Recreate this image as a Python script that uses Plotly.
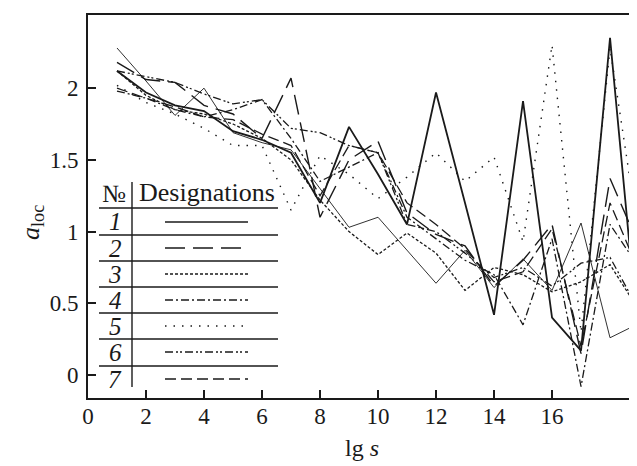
import plotly.graph_objects as go

# ---------------- data ----------------
lg_s = list(range(1, 20))
series_1 = [2.12, 1.97, 1.88, 1.84, 1.70, 1.64, 1.55, 1.20, 1.73, 1.40, 1.05, 1.97, 1.20, 0.42, 1.91, 0.40, 0.17, 2.35, 0.20]
series_1b = [2.28, 2.05, 1.81, 2.00, 1.69, 1.62, 1.57, 1.30, 1.03, 1.10, 0.87, 0.64, 0.87, 0.61, 0.81, 0.59, 1.06, 0.26, 0.36]
series_2 = [2.18, 2.06, 2.04, 1.88, 1.82, 1.65, 2.07, 1.10, 1.50, 1.63, 1.13, 0.98, 0.90, 0.62, 0.80, 1.05, 0.15, 1.37, 0.90]
series_3 = [2.12, 1.95, 1.85, 1.82, 1.75, 1.65, 1.50, 1.22, 1.00, 0.84, 0.99, 0.85, 0.59, 0.75, 0.70, 0.58, 0.65, 0.77, 0.45]
series_4 = [1.98, 1.93, 1.85, 1.80, 1.85, 1.92, 1.65, 1.35, 1.45, 1.55, 1.10, 0.95, 0.80, 0.70, 0.35, 0.95, -0.08, 1.05, 0.75]
series_5 = [2.02, 1.90, 1.82, 1.72, 1.60, 1.60, 1.15, 1.53, 1.40, 1.23, 1.38, 1.55, 1.35, 1.52, 0.93, 2.30, 0.30, 2.28, 0.95]
series_6 = [2.12, 2.08, 2.04, 1.96, 1.89, 1.92, 1.72, 1.69, 1.60, 1.55, 1.05, 1.00, 0.85, 0.68, 0.75, 0.62, 0.78, 0.82, 0.45]
series_7 = [2.00, 1.93, 1.87, 1.80, 1.78, 1.68, 1.60, 1.25, 1.60, 1.55, 1.20, 1.05, 0.88, 0.65, 0.72, 1.02, 0.20, 1.20, 0.72]

x_ticks = [0, 2, 4, 6, 8, 10, 12, 14, 16]
y_ticks = [0, 0.5, 1, 1.5, 2]
y_tick_text = ["0", "0.5", "1", "1.5", "2"]
legend_numbers = ["1", "2", "3", "4", "5", "6", "7"]

# ---------------- styles ----------------
INK = "#1a1a1a"
FONT = "Liberation Serif"
dashes = {
    "1": "solid",
    "2": "20px,8px",
    "3": "3px,2px",
    "4": "8px,3px,2px,3px",
    "5": "1.5px,7px",
    "6": "8px,3px,2px,2px,2px,3px",
    "7": "11px,5px",
}

# page body adds an 8px offset; positions below are in screenshot pixels
OFF = 8
W, H = 637 - OFF, 466 - OFF
L, R, T, B = 88, 637, 15, 398


def pxx(x):
    return (x - L) / (R - L)


def pxy(y):
    return (B - y) / (B - T)


fig = go.Figure()

plot_series = [
    (series_1, "1", 1.8),
    (series_1b, "1", 0.9),
    (series_2, "2", 1.4),
    (series_3, "3", 1.3),
    (series_4, "4", 1.3),
    (series_5, "5", 1.4),
    (series_6, "6", 1.3),
    (series_7, "7", 1.3),
]
for vals, key, w in plot_series:
    fig.add_trace(go.Scatter(
        x=lg_s, y=vals, mode="lines",
        line=dict(color=INK, width=w, dash=dashes[key]),
        showlegend=False, hoverinfo="skip",
    ))

shapes = []
annotations = []

# legend table
h_lines = [208, 235, 261, 287, 313, 339, 366]
for yy in h_lines:
    shapes.append(dict(type="line", xref="paper", yref="paper",
                       x0=pxx(99), x1=pxx(278), y0=pxy(yy), y1=pxy(yy),
                       line=dict(color=INK, width=1.4)))
shapes.append(dict(type="line", xref="paper", yref="paper",
                   x0=pxx(132), x1=pxx(132), y0=pxy(182), y1=pxy(387),
                   line=dict(color=INK, width=1.4)))

annotations.append(dict(xref="paper", yref="paper", x=pxx(114), y=pxy(193),
                        text="№", showarrow=False, xanchor="center", yanchor="middle",
                        font=dict(family=FONT, size=25, color=INK)))
annotations.append(dict(xref="paper", yref="paper", x=pxx(137), y=pxy(192),
                        text="Designations", showarrow=False, xanchor="left", yanchor="middle",
                        font=dict(family=FONT, size=26, color=INK)))

row_centers = [222, 248, 274, 300, 326, 352, 379]
for num, yc in zip(legend_numbers, row_centers):
    annotations.append(dict(xref="paper", yref="paper", x=pxx(115), y=pxy(yc),
                            text="<i>" + num + "</i>", showarrow=False,
                            xanchor="center", yanchor="middle",
                            font=dict(family=FONT, size=25, color=INK)))
    shapes.append(dict(type="line", xref="paper", yref="paper",
                       x0=pxx(165), x1=pxx(248), y0=pxy(yc), y1=pxy(yc),
                       line=dict(color=INK, width=1.6 if num == "1" else 1.4,
                                 dash=dashes[num])))

# axis titles
annotations.append(dict(xref="paper", yref="paper", x=pxx(362), y=pxy(448),
                        text="lg <i>s</i>", showarrow=False, xanchor="center", yanchor="middle",
                        font=dict(family=FONT, size=24, color=INK)))
annotations.append(dict(xref="paper", yref="paper", x=pxx(32), y=pxy(222),
                        text="<i>a</i><sub>loc</sub>", showarrow=False, textangle=-90,
                        xanchor="center", yanchor="middle",
                        font=dict(family=FONT, size=26, color=INK)))

fig.update_layout(
    width=W, height=H,
    margin=dict(l=L - OFF, r=0, t=T - OFF, b=H - (B - OFF), pad=0),
    paper_bgcolor="white", plot_bgcolor="white",
    shapes=shapes, annotations=annotations,
    xaxis=dict(range=[0, 18.93], tickvals=x_ticks, ticks="inside", ticklen=8,
               tickwidth=1.5, tickcolor=INK, showline=True, linecolor=INK, linewidth=2,
               mirror=True, showgrid=False, zeroline=False, ticklabelstandoff=-4,
               tickfont=dict(family=FONT, size=23, color=INK)),
    yaxis=dict(range=[-0.16, 2.51], tickvals=y_ticks, ticktext=y_tick_text,
               ticks="inside", ticklen=8, tickwidth=1.5, tickcolor=INK,
               showline=True, linecolor=INK, linewidth=2, showgrid=False,
               zeroline=False, ticklabelstandoff=3,
               tickfont=dict(family=FONT, size=23, color=INK)),
)

fig.write_html("out.html")
